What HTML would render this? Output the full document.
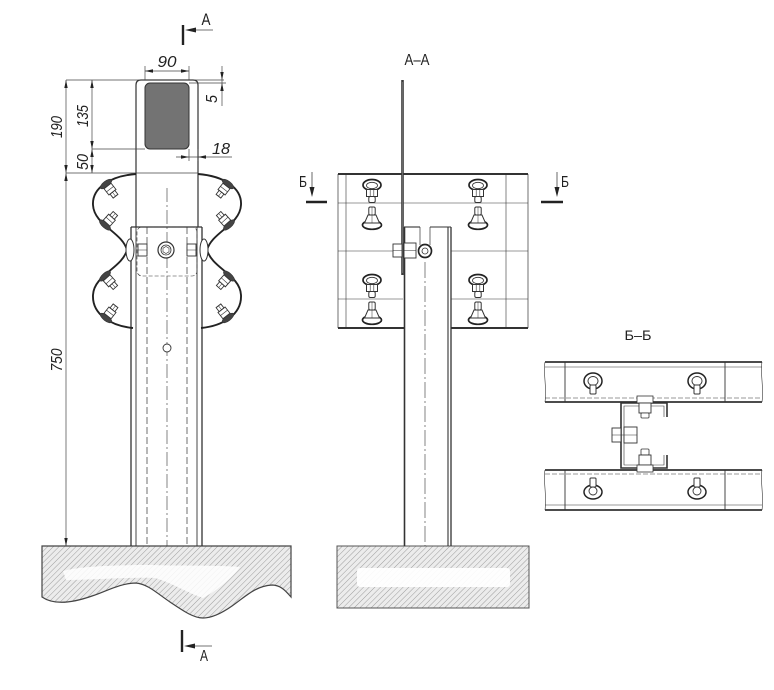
<!DOCTYPE html>
<html><head><meta charset="utf-8"><style>
html,body{margin:0;padding:0;background:#fff;}
svg{display:block;}
text{font-family:"Liberation Sans",sans-serif;fill:#222;}
.it{font-style:italic;}
</style></head><body>
<svg width="774" height="690" viewBox="0 0 774 690" xmlns="http://www.w3.org/2000/svg">
<defs>
<pattern id="h" width="4" height="4" patternUnits="userSpaceOnUse" patternTransform="rotate(45)">
<rect width="4" height="4" fill="#ececec"/>
<line x1="0" y1="0" x2="0" y2="4" stroke="#949494" stroke-width="0.9"/>
</pattern>
<g id="wb">
<ellipse cx="0" cy="0" rx="2.8" ry="7" fill="#444" stroke="#333" stroke-width="0.6"/>
<rect x="2.5" y="-4.5" width="8" height="9" fill="#fff" stroke="#333" stroke-width="0.9"/>
<line x1="6.5" y1="-4.5" x2="6.5" y2="4.5" stroke="#333" stroke-width="0.6"/>
<rect x="10.5" y="-3" width="5" height="6" fill="#fff" stroke="#333" stroke-width="0.9"/>
<line x1="10.5" y1="0" x2="15.5" y2="0" stroke="#333" stroke-width="0.5"/>
</g>
<g id="bu">
<ellipse cx="0" cy="0" rx="9" ry="5.5" fill="#fff" stroke="#222" stroke-width="1.7"/>
<ellipse cx="0" cy="0.5" rx="5.5" ry="3.2" fill="none" stroke="#333" stroke-width="0.8"/>
<rect x="-5.5" y="4.5" width="11" height="7" fill="#fff" stroke="#333" stroke-width="1"/>
<line x1="-1.8" y1="4.5" x2="-1.8" y2="11.5" stroke="#333" stroke-width="0.6"/>
<line x1="1.8" y1="4.5" x2="1.8" y2="11.5" stroke="#333" stroke-width="0.6"/>
<rect x="-3.2" y="11.5" width="6.4" height="6" rx="1.5" fill="#fff" stroke="#333" stroke-width="1"/>
</g>
<g id="bl">
<ellipse cx="0" cy="0" rx="9.5" ry="4.3" fill="#fff" stroke="#222" stroke-width="1.7"/>
<polygon points="-7.5,-2 7.5,-2 4,-10 -4,-10" fill="#fff" stroke="#333" stroke-width="1"/>
<rect x="-3.2" y="-18" width="6.4" height="8" rx="1.5" fill="#fff" stroke="#333" stroke-width="1"/>
<line x1="0" y1="-18" x2="0" y2="-2" stroke="#333" stroke-width="0.5"/>
</g>
<g id="tbu">
<ellipse cx="0" cy="0" rx="9" ry="8" fill="#fff" stroke="#222" stroke-width="1.5"/>
<ellipse cx="0" cy="0" rx="5" ry="4.5" fill="none" stroke="#333" stroke-width="0.9"/>
<rect x="-3" y="4" width="6" height="9" rx="1" fill="#fff" stroke="#333" stroke-width="1"/>
</g>
<g id="tbl">
<ellipse cx="0" cy="0" rx="9" ry="7" fill="#fff" stroke="#222" stroke-width="1.5"/>
<ellipse cx="0" cy="-1" rx="4" ry="4" fill="none" stroke="#333" stroke-width="0.9"/>
<rect x="-3" y="-14" width="6" height="9" rx="1" fill="#fff" stroke="#333" stroke-width="1"/>
</g>
</defs>

<!-- ================= LEFT VIEW ================= -->
<line x1="183" y1="25" x2="183" y2="45" stroke="#222" stroke-width="2.4"/>
<line x1="190" y1="30" x2="213" y2="30" stroke="#444" stroke-width="0.8"/>
<polygon points="185,30 196,27.5 196,32.5" fill="#222"/>
<text x="206" y="25" font-size="17" text-anchor="middle" textLength="9" lengthAdjust="spacingAndGlyphs">A</text>

<path d="M42,546 H291 V597 C285,590 280,585 272,585 C255,586 245,597 232,606 C222,613 212,618 203,618 C193,618 182,610 170,602 C158,594 148,584 136,583 C120,583 105,592 92,596 C75,602 55,606 42,597 Z" fill="url(#h)" stroke="#444" stroke-width="1.2"/>
<path d="M63,571 C80,566 120,565 150,565 C175,566 215,565 240,567 C232,578 215,592 203,598 C190,594 170,582 155,578 C130,577 90,580 66,580 Z" fill="#fff" opacity="0.85"/>

<path d="M136,227 V85 Q136,80 141,80 H193 Q198,80 198,85 V227" fill="none" stroke="#333" stroke-width="1.2"/>
<rect x="145" y="83" width="44" height="66" rx="5" fill="#737373" stroke="#333" stroke-width="1"/>

<g stroke="#444" stroke-width="0.7" fill="none">
<line x1="66" y1="80" x2="224" y2="80"/>
<line x1="92" y1="149" x2="145" y2="149"/>
<line x1="66" y1="173" x2="136" y2="173"/>
<line x1="136" y1="173" x2="198" y2="173"/>
<line x1="145" y1="66" x2="145" y2="80"/>
<line x1="189" y1="66" x2="189" y2="80"/>
<line x1="145" y1="71" x2="189" y2="71"/>
<line x1="189" y1="83" x2="226" y2="83"/>
<line x1="222" y1="66" x2="222" y2="106"/>
<line x1="176" y1="157" x2="232" y2="157"/>
<line x1="189" y1="149" x2="189" y2="161"/>
<line x1="198" y1="149" x2="198" y2="161"/>
<line x1="66" y1="80" x2="66" y2="546"/>
<line x1="92" y1="80" x2="92" y2="173"/>
</g>
<g fill="#222">
<polygon points="145,71 153,69.3 153,72.7"/>
<polygon points="189,71 181,69.3 181,72.7"/>
<polygon points="222,80 220.3,72 223.7,72"/>
<polygon points="222,83 220.3,91 223.7,91"/>
<polygon points="189,157 181,155.3 181,158.7"/>
<polygon points="198,157 206,155.3 206,158.7"/>
<polygon points="66,80 64.3,88 67.7,88"/>
<polygon points="66,173 64.3,165 67.7,165"/>
<polygon points="66,173 64.3,181 67.7,181"/>
<polygon points="66,546 64.3,538 67.7,538"/>
<polygon points="92,80 90.3,88 93.7,88"/>
<polygon points="92,149 90.3,141 93.7,141"/>
<polygon points="92,149 90.3,157 93.7,157"/>
<polygon points="92,173 90.3,165 93.7,165"/>
</g>
<text class="it" x="167" y="67" font-size="16" text-anchor="middle" textLength="19" lengthAdjust="spacingAndGlyphs">90</text>
<text class="it" x="221" y="154" font-size="16" text-anchor="middle" textLength="18" lengthAdjust="spacingAndGlyphs">18</text>
<text class="it" transform="translate(217,99) rotate(-90)" font-size="16" text-anchor="middle" textLength="8" lengthAdjust="spacingAndGlyphs">5</text>
<text class="it" transform="translate(88,116) rotate(-90)" font-size="16" text-anchor="middle" textLength="22" lengthAdjust="spacingAndGlyphs">135</text>
<text class="it" transform="translate(62,127) rotate(-90)" font-size="16" text-anchor="middle" textLength="22" lengthAdjust="spacingAndGlyphs">190</text>
<text class="it" transform="translate(88,162) rotate(-90)" font-size="16" text-anchor="middle" textLength="16" lengthAdjust="spacingAndGlyphs">50</text>
<text class="it" transform="translate(62,360) rotate(-90)" font-size="16" text-anchor="middle" textLength="23" lengthAdjust="spacingAndGlyphs">750</text>

<g stroke="#333" fill="none">
<line x1="131" y1="227" x2="131" y2="546" stroke-width="1.3"/>
<line x1="136" y1="227" x2="136" y2="546" stroke-width="0.9"/>
<line x1="202" y1="227" x2="202" y2="546" stroke-width="1.3"/>
<line x1="197" y1="227" x2="197" y2="546" stroke-width="0.9"/>
<line x1="131" y1="227" x2="202" y2="227" stroke-width="1.2"/>
<line x1="147" y1="227" x2="147" y2="546" stroke-width="0.7" stroke-dasharray="7 3"/>
<line x1="187" y1="227" x2="187" y2="546" stroke-width="0.7" stroke-dasharray="7 3"/>
<line x1="167" y1="188" x2="167" y2="546" stroke-width="0.6" stroke-dasharray="14 3 2 3"/>
<rect x="137" y="227" width="60" height="49" rx="5" stroke-width="0.6" stroke-dasharray="4 2"/>
<circle cx="167" cy="348" r="4" stroke-width="0.9" fill="#fff"/>
</g>
<circle cx="166" cy="250" r="8" fill="#fff" stroke="#333" stroke-width="1.2"/>
<circle cx="166" cy="250" r="5" fill="#fff" stroke="#333" stroke-width="0.8"/>
<polygon points="166,246.5 169,248.2 169,251.8 166,253.5 163,251.8 163,248.2" fill="none" stroke="#333" stroke-width="0.6"/>
<rect x="138" y="244" width="9" height="12" fill="#fff" stroke="#333" stroke-width="0.9"/>
<line x1="138" y1="250" x2="147" y2="250" stroke="#333" stroke-width="0.5"/>
<rect x="187" y="244" width="9" height="12" fill="#fff" stroke="#333" stroke-width="0.9"/>
<line x1="187" y1="250" x2="196" y2="250" stroke="#333" stroke-width="0.5"/>

<g id="wleft">
<path d="M136,174 C110,176 92,188 93,205 C94,225 122,232 127,250 C122,268 94,275 93,295 C92,315 112,326 133,328" fill="none" stroke="#222" stroke-width="1.9"/>
<ellipse cx="130" cy="250" rx="4" ry="11" fill="#fff" stroke="#333" stroke-width="1"/>
<use href="#wb" transform="translate(106,184) rotate(52)"/>
<use href="#wb" transform="translate(105,225) rotate(-48)"/>
<use href="#wb" transform="translate(105,276) rotate(48)"/>
<use href="#wb" transform="translate(106,318) rotate(-52)"/>
</g>
<use href="#wleft" transform="translate(334,0) scale(-1,1)"/>

<line x1="182" y1="630" x2="182" y2="652" stroke="#222" stroke-width="2.4"/>
<line x1="190" y1="646" x2="212" y2="646" stroke="#444" stroke-width="0.8"/>
<polygon points="184,646 195,643.5 195,648.5" fill="#222"/>
<text x="204" y="661" font-size="16" text-anchor="middle" textLength="8" lengthAdjust="spacingAndGlyphs">A</text>

<!-- ================= MIDDLE VIEW A-A ================= -->
<text x="417" y="65" font-size="16" text-anchor="middle" textLength="25" lengthAdjust="spacingAndGlyphs">A–A</text>

<text x="303" y="187" font-size="16" text-anchor="middle" textLength="8" lengthAdjust="spacingAndGlyphs">Б</text>
<line x1="312" y1="172" x2="312" y2="190" stroke="#444" stroke-width="0.8"/>
<polygon points="312,197 309.5,187 314.5,187" fill="#222"/>
<line x1="306" y1="202" x2="327" y2="202" stroke="#222" stroke-width="2.4"/>
<text x="565" y="187" font-size="16" text-anchor="middle" textLength="8" lengthAdjust="spacingAndGlyphs">Б</text>
<line x1="557" y1="172" x2="557" y2="190" stroke="#444" stroke-width="0.8"/>
<polygon points="557,197 554.5,187 559.5,187" fill="#222"/>
<line x1="541" y1="202" x2="563" y2="202" stroke="#222" stroke-width="2.4"/>

<rect x="337" y="546" width="192" height="62" fill="url(#h)" stroke="#555" stroke-width="1"/>
<rect x="357" y="568" width="153" height="19" rx="3" fill="#fff" opacity="0.92"/>

<g stroke="#333" fill="none">
<line x1="338" y1="174" x2="528" y2="174" stroke-width="2"/>
<line x1="338" y1="328" x2="404" y2="328" stroke-width="2"/>
<line x1="451" y1="328" x2="528" y2="328" stroke-width="2"/>
<line x1="338" y1="174" x2="338" y2="328" stroke-width="0.7"/>
<line x1="528" y1="174" x2="528" y2="328" stroke-width="0.7"/>
<line x1="346" y1="174" x2="346" y2="328" stroke-width="0.6"/>
<line x1="506" y1="174" x2="506" y2="328" stroke-width="0.6"/>
<line x1="338" y1="203" x2="528" y2="203" stroke-width="0.5"/>
<line x1="338" y1="251" x2="393" y2="251" stroke-width="0.5"/>
<line x1="451" y1="251" x2="528" y2="251" stroke-width="0.5"/>
<line x1="338" y1="299" x2="403" y2="299" stroke-width="0.5"/>
<line x1="451" y1="299" x2="528" y2="299" stroke-width="0.5"/>
</g>
<use href="#bu" transform="translate(372,185)"/>
<use href="#bu" transform="translate(478,185)"/>
<use href="#bl" transform="translate(372,225)"/>
<use href="#bl" transform="translate(478,225)"/>
<use href="#bu" transform="translate(372,280)"/>
<use href="#bu" transform="translate(478,280)"/>
<use href="#bl" transform="translate(372,320)"/>
<use href="#bl" transform="translate(478,320)"/>

<g stroke="#333" fill="none">
<line x1="404.5" y1="227" x2="404.5" y2="546" stroke-width="1.6"/>
<line x1="448" y1="227" x2="448" y2="546" stroke-width="1.1"/>
<line x1="451" y1="227" x2="451" y2="546" stroke-width="1.3"/>
<line x1="404" y1="227" x2="420" y2="227" stroke-width="1.1"/>
<line x1="430" y1="227" x2="451" y2="227" stroke-width="1.1"/>
<line x1="420" y1="227" x2="420" y2="245" stroke-width="0.7"/>
<line x1="430" y1="227" x2="430" y2="245" stroke-width="0.7"/>
<line x1="425" y1="262" x2="425" y2="546" stroke-width="0.6" stroke-dasharray="16 3 2 3"/>
</g>
<line x1="402.5" y1="80" x2="402.5" y2="275" stroke="#3a3a3a" stroke-width="2.6"/>
<line x1="402.5" y1="82" x2="402.5" y2="273" stroke="#888" stroke-width="0.6"/>
<rect x="393" y="244" width="9" height="13" fill="#fff" stroke="#333" stroke-width="0.9"/>
<rect x="404" y="243" width="12" height="15" fill="#fff" stroke="#333" stroke-width="0.9"/>
<line x1="404" y1="250.5" x2="416" y2="250.5" stroke="#333" stroke-width="0.5"/>
<line x1="393" y1="250.5" x2="402" y2="250.5" stroke="#333" stroke-width="0.5"/>
<circle cx="425" cy="251" r="6.5" fill="#fff" stroke="#222" stroke-width="1.7"/>
<circle cx="425" cy="251" r="3" fill="none" stroke="#333" stroke-width="0.8"/>

<!-- ================= RIGHT VIEW Б-Б ================= -->
<text x="638" y="340" font-size="14" text-anchor="middle" textLength="27" lengthAdjust="spacingAndGlyphs">Б–Б</text>
<g stroke="#333" fill="none">
<line x1="545" y1="362" x2="762" y2="362" stroke-width="1.8"/>
<line x1="545" y1="367" x2="762" y2="367" stroke-width="0.5"/>
<line x1="545" y1="398" x2="762" y2="398" stroke-width="0.6" stroke-dasharray="5 2"/>
<line x1="545" y1="402" x2="762" y2="402" stroke-width="1.8"/>
<line x1="565" y1="362" x2="565" y2="402" stroke-width="0.9"/>
<line x1="725" y1="362" x2="725" y2="402" stroke-width="0.9"/>
<path d="M545,362 C543,372 547,388 545,402" stroke-width="0.6"/>
<path d="M762,362 C760,372 764,388 762,402" stroke-width="0.6"/>
<line x1="545" y1="470" x2="762" y2="470" stroke-width="1.8"/>
<line x1="545" y1="474" x2="762" y2="474" stroke-width="0.6" stroke-dasharray="5 2"/>
<line x1="545" y1="505" x2="762" y2="505" stroke-width="0.5"/>
<line x1="545" y1="510" x2="762" y2="510" stroke-width="1.8"/>
<line x1="565" y1="470" x2="565" y2="510" stroke-width="0.9"/>
<line x1="725" y1="470" x2="725" y2="510" stroke-width="0.9"/>
<path d="M545,470 C543,480 547,496 545,510" stroke-width="0.6"/>
<path d="M762,470 C760,480 764,496 762,510" stroke-width="0.6"/>
<path d="M667,417 V403 H621 V468 H667 V455" stroke-width="1.6"/>
<path d="M664,417 V406 H624 V465 H664 V455" stroke-width="0.6"/>
</g>
<use href="#tbu" transform="translate(593,381)"/>
<use href="#tbu" transform="translate(697,381)"/>
<use href="#tbl" transform="translate(593,492)"/>
<use href="#tbl" transform="translate(697,492)"/>
<rect x="612" y="428" width="9" height="14" fill="#fff" stroke="#333" stroke-width="0.9"/>
<rect x="624" y="427" width="13" height="16" fill="#fff" stroke="#333" stroke-width="0.9"/>
<line x1="612" y1="435" x2="637" y2="435" stroke="#333" stroke-width="0.5"/>
<rect x="637" y="396" width="16" height="7" fill="#fff" stroke="#333" stroke-width="0.8"/>
<rect x="639" y="403" width="12" height="10" fill="#fff" stroke="#333" stroke-width="0.9"/>
<rect x="641" y="413" width="8" height="5" rx="1" fill="#fff" stroke="#333" stroke-width="0.8"/>
<rect x="641" y="449" width="8" height="6" rx="1" fill="#fff" stroke="#333" stroke-width="0.8"/>
<rect x="639" y="455" width="12" height="10" fill="#fff" stroke="#333" stroke-width="0.9"/>
<rect x="637" y="465" width="16" height="7" fill="#fff" stroke="#333" stroke-width="0.8"/>
</svg>
</body></html>
